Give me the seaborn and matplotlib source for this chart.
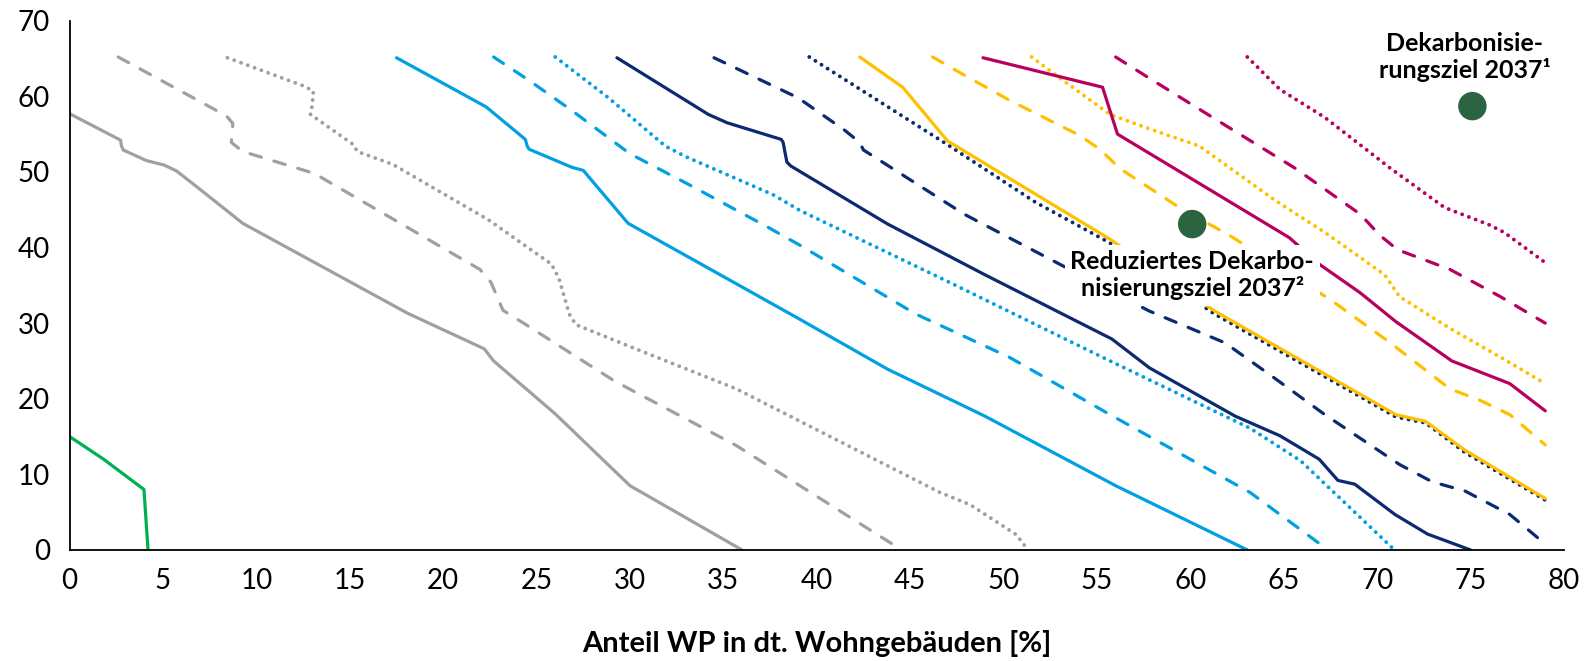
import numpy as np
import pandas as pd
import matplotlib
matplotlib.use("Agg")
import matplotlib.pyplot as plt
import seaborn as sns

# --- data (x: Anteil WP [%], y: value) ---
gray_solid_x = [0, 2.73, 2.77, 2.87, 4.11, 5.07, 5.74, 6.98, 9.27, 18.1, 22.2, 22.7, 26.0, 30.0, 36.0]
gray_solid_y = [57.7, 54.2, 53.5, 52.9, 51.5, 50.9, 50.1, 47.7, 43.2, 31.3, 26.6, 25.0, 18.0, 8.5, 0]
gray_dashed_x = [2.6, 8.4, 8.74, 8.66, 9.27, 13.1, 21.97, 22.56, 23.2, 24.3, 29.2, 35.7, 44.1]
gray_dashed_y = [65.2, 57.4, 56.4, 53.9, 52.7, 49.8, 37.1, 35.4, 31.7, 30.0, 22.3, 13.8, 0.7]
gray_dotted_x = [8.45, 12.5, 13.05, 13.0, 12.9, 15.2, 15.4, 17.3, 22.4, 25.8, 26.2, 26.75, 27.1, 30.0, 35.7, 46.6, 48.2, 50.7, 51.3]
gray_dotted_y = [65.1, 61.4, 60.7, 59.0, 57.6, 53.6, 52.7, 51.0, 43.7, 37.8, 35.9, 31.2, 29.8, 26.9, 21.3, 7.6, 6.0, 2.0, 0]

green_x = [0, 1.82, 3.98, 4.2]
green_y = [15.0, 12.0, 8.0, 0]

blue_solid_x = [17.5, 22.3, 24.4, 24.5, 24.6, 26.9, 27.5, 29.9, 39.1, 43.8, 49.0, 56.0, 63.05]
blue_solid_y = [65.1, 58.6, 54.3, 53.4, 53.0, 50.6, 50.2, 43.2, 30.5, 23.9, 17.7, 8.5, 0]
blue_dashed_x = [22.7, 24.6, 26.9, 30.0, 33.25, 37.3, 39.1, 45.3, 50.3, 55.7, 63.2, 67.1]
blue_dashed_y = [65.2, 62.1, 58.1, 52.4, 48.2, 42.8, 40.3, 31.2, 25.5, 17.9, 7.6, 0.5]
blue_dotted_x = [26.0, 28.85, 31.9, 33.0, 37.65, 39.1, 47.1, 55.7, 63.2, 65.9, 68.5, 70.8]
blue_dotted_y = [65.2, 59.8, 53.4, 52.0, 47.0, 44.9, 35.4, 25.0, 16.1, 11.8, 5.7, 0.3]

navy_solid_x = [29.3, 34.2, 35.2, 38.1, 38.2, 38.4, 38.6, 43.8, 49.0, 55.8, 57.8, 62.4, 64.8, 66.9, 67.9, 68.8, 70.95, 72.7, 75.0]
navy_solid_y = [65.1, 57.6, 56.5, 54.3, 53.9, 51.3, 50.8, 43.1, 36.4, 27.9, 24.1, 17.7, 15.1, 12.0, 9.2, 8.7, 4.7, 2.1, 0]
navy_dashed_x = [34.5, 39.0, 41.5, 42.3, 42.5, 47.9, 53.0, 57.8, 61.85, 64.3, 67.2, 71.2, 72.96, 74.7, 77.1, 78.7]
navy_dashed_y = [65.1, 59.8, 55.5, 53.9, 52.9, 44.4, 37.8, 31.6, 27.4, 23.1, 17.9, 11.3, 9.0, 7.8, 4.7, 1.4]
navy_dotted_x = [39.6, 47.0, 51.7, 55.7, 61.3, 71.0, 72.6, 74.7, 79.0]
navy_dotted_y = [65.2, 53.6, 46.0, 40.6, 31.2, 17.6, 16.8, 12.9, 6.6]

yellow_solid_x = [42.3, 44.6, 47.0, 55.7, 61.3, 71.0, 72.6, 74.7, 79.0]
yellow_solid_y = [65.2, 61.2, 54.1, 41.1, 31.6, 17.9, 17.0, 13.2, 6.8]
yellow_dashed_x = [46.2, 47.9, 50.3, 54.1, 55.2, 56.2, 59.4, 62.1, 67.5, 70.7, 73.9, 75.5, 77.1, 79.0]
yellow_dashed_y = [65.2, 62.8, 59.5, 54.8, 52.9, 50.5, 45.3, 41.6, 33.1, 27.4, 21.3, 19.8, 17.9, 13.9]
yellow_dotted_x = [51.5, 53.3, 55.7, 57.8, 60.5, 61.85, 64.5, 67.2, 70.4, 71.2, 73.9, 76.6, 79.0]
yellow_dotted_y = [65.2, 61.9, 57.6, 55.7, 53.4, 51.0, 46.3, 42.0, 36.4, 33.5, 29.3, 25.5, 22.0]

mag_solid_x = [48.9, 55.3, 56.1, 65.3, 66.9, 69.1, 71.0, 74.0, 77.1, 79.0]
mag_solid_y = [65.1, 61.2, 55.0, 41.3, 37.8, 34.0, 30.2, 25.0, 22.0, 18.4]
mag_dashed_x = [56.0, 57.8, 61.85, 65.6, 69.1, 70.15, 71.1, 73.9, 76.6, 79.0]
mag_dashed_y = [65.2, 62.4, 56.2, 50.5, 44.4, 41.6, 39.7, 37.1, 33.5, 30.0]
mag_dotted_x = [63.05, 64.8, 67.2, 70.7, 73.6, 76.0, 76.8, 79.0]
mag_dotted_y = [65.2, 60.9, 57.2, 50.5, 45.3, 43.0, 42.0, 38.0]

target_x = [60.1, 75.1]
target_y = [43.1, 58.7]
target_labels = ["Reduziertes Dekarbo-\nnisierungsziel 2037\u00b2",
                 "Dekarbonisie-\nrungsziel 2037\u00b9"]

GRAY = "#A0A0A0"
BLUE = "#00A0E3"
NAVY = "#0B2A6F"
YELLOW = "#FFC000"
MAG = "#B8005F"
GREEN = "#00B050"
DOT = "#2C6340"

sns.set_style("white")
plt.rcParams["font.family"] = ["Lato", "DejaVu Sans"]

fig, ax = plt.subplots(figsize=(15.85, 6.61), dpi=100)
fig.subplots_adjust(left=0.0439, right=0.9867, bottom=0.168, top=0.9687)

LW = 2.3
solid = "-"
dashed = (0, (3.7, 4.1))
dotted = (0, (0.01, 1.85))

series = [
    (gray_solid_x, gray_solid_y, GRAY, solid),
    (gray_dashed_x, gray_dashed_y, GRAY, dashed),
    (gray_dotted_x, gray_dotted_y, GRAY, dotted),
    (green_x, green_y, GREEN, solid),
    (blue_solid_x, blue_solid_y, BLUE, solid),
    (blue_dashed_x, blue_dashed_y, BLUE, dashed),
    (blue_dotted_x, blue_dotted_y, BLUE, dotted),
    (navy_solid_x, navy_solid_y, NAVY, solid),
    (navy_dashed_x, navy_dashed_y, NAVY, dashed),
    (navy_dotted_x, navy_dotted_y, NAVY, dotted),
    (yellow_solid_x, yellow_solid_y, YELLOW, solid),
    (yellow_dashed_x, yellow_dashed_y, YELLOW, dashed),
    (yellow_dotted_x, yellow_dotted_y, YELLOW, dotted),
    (mag_solid_x, mag_solid_y, MAG, solid),
    (mag_dashed_x, mag_dashed_y, MAG, dashed),
    (mag_dotted_x, mag_dotted_y, MAG, dotted),
]

for xs, ys, col, ls in series:
    lw = 2.8 if ls is dotted else LW
    sns.lineplot(x=xs, y=ys, sort=False, estimator=None, color=col, lw=lw,
                 linestyle=ls, dash_capstyle="round", ax=ax)

sns.scatterplot(x=target_x, y=target_y, s=420, color=DOT, edgecolor="none",
                ax=ax, zorder=5)

ax.text(target_x[0], 36.3, target_labels[0], ha="center", va="center",
        fontsize=18, fontweight="bold", linespacing=1.15, zorder=6,
        color="black", bbox=dict(facecolor="white", edgecolor="none", pad=4))
ax.text(74.7, 65.2, target_labels[1], ha="center", va="center",
        fontsize=18, fontweight="bold", linespacing=1.15, zorder=6,
        color="black", bbox=dict(facecolor="white", edgecolor="none", pad=4))

ax.set_xlim(0, 80)
ax.set_ylim(0, 70)
ax.set_xticks(np.arange(0, 81, 5))
ax.set_yticks(np.arange(0, 71, 10))
ax.tick_params(axis="both", length=0, labelsize=20, colors="black")
ax.tick_params(axis="x", pad=13)
ax.tick_params(axis="y", pad=14)
ax.set_xlabel("Anteil WP in dt. Wohngebäuden [%]", fontsize=21,
              fontweight="bold", labelpad=26, color="black")
ax.set_ylabel("")
for side in ["top", "right"]:
    ax.spines[side].set_visible(False)
for side in ["left", "bottom"]:
    ax.spines[side].set_color("black")
    ax.spines[side].set_linewidth(1.3)

fig.savefig("out.png", dpi=100)
